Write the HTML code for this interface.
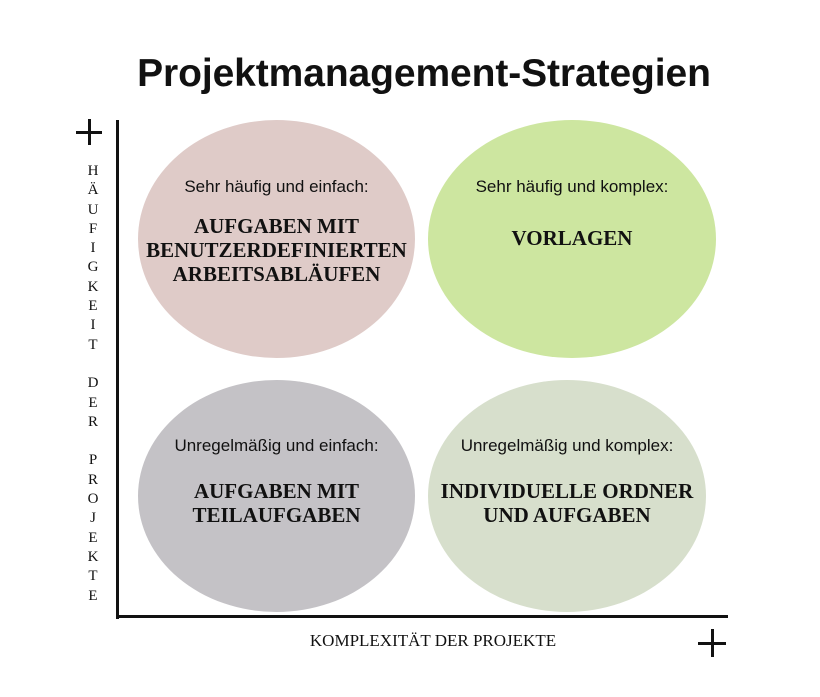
<!DOCTYPE html>
<html><head><meta charset="utf-8"><style>
body{margin:0;background:#fff;width:820px;height:697px;position:relative;overflow:hidden;font-family:"Liberation Sans",sans-serif}
.t{position:absolute;left:14px;width:820px;top:52px;text-align:center;font-weight:bold;font-size:39px;color:#111;letter-spacing:-0.1px}
.e{position:absolute;border-radius:50%}
.lab{position:absolute;text-align:center;color:#111}
.s{font-size:17px}
.b{font-family:"Liberation Serif",serif;font-weight:bold;font-size:21px;line-height:24px}
.v{position:absolute;left:84px;top:162px;width:18px;text-align:center;font-family:"Liberation Serif",serif;font-size:15px;line-height:19.3px;color:#111}
</style></head><body>
<div class="t">Projektmanagement-Strategien</div>
<div class="e" style="left:138px;top:120px;width:277px;height:238px;background:#dfcbc8"></div>
<div class="e" style="left:428px;top:120px;width:288px;height:238px;background:#cde6a0"></div>
<div class="e" style="left:138px;top:380px;width:277px;height:232px;background:#c4c2c6"></div>
<div class="e" style="left:428px;top:380px;width:278px;height:232px;background:#d7dfcc"></div>
<div class="lab s" style="left:138px;width:277px;top:177px">Sehr häufig und einfach:</div>
<div class="lab b" style="left:128px;width:297px;top:214px">AUFGABEN MIT<br>BENUTZERDEFINIERTEN<br>ARBEITSABLÄUFEN</div>
<div class="lab s" style="left:428px;width:288px;top:177px">Sehr häufig und komplex:</div>
<div class="lab b" style="left:428px;width:288px;top:226px">VORLAGEN</div>
<div class="lab s" style="left:128px;width:297px;top:436px">Unregelmäßig und einfach:</div>
<div class="lab b" style="left:138px;width:277px;top:479px">AUFGABEN MIT<br>TEILAUFGABEN</div>
<div class="lab s" style="left:418px;width:298px;top:436px">Unregelmäßig und komplex:</div>
<div class="lab b" style="left:418px;width:298px;top:479px">INDIVIDUELLE ORDNER<br>UND AUFGABEN</div>
<div style="position:absolute;left:116px;top:120px;width:3px;height:499px;background:#111"></div>
<div style="position:absolute;left:116px;top:615px;width:612px;height:3px;background:#111"></div>
<div class="v">H<br>Ä<br>U<br>F<br>I<br>G<br>K<br>E<br>I<br>T<br>&nbsp;<br>D<br>E<br>R<br>&nbsp;<br>P<br>R<br>O<br>J<br>E<br>K<br>T<br>E</div>
<div class="lab" style="left:233px;width:400px;top:631px;font-family:'Liberation Serif',serif;font-size:17px">KOMPLEXITÄT DER PROJEKTE</div>
<div style="position:absolute;left:76px;top:131px;width:26px;height:3px;background:#111"></div>
<div style="position:absolute;left:88px;top:119px;width:3px;height:26px;background:#111"></div>
<div style="position:absolute;left:698px;top:642px;width:28px;height:3px;background:#111"></div>
<div style="position:absolute;left:711px;top:629px;width:3px;height:28px;background:#111"></div>
</body></html>
